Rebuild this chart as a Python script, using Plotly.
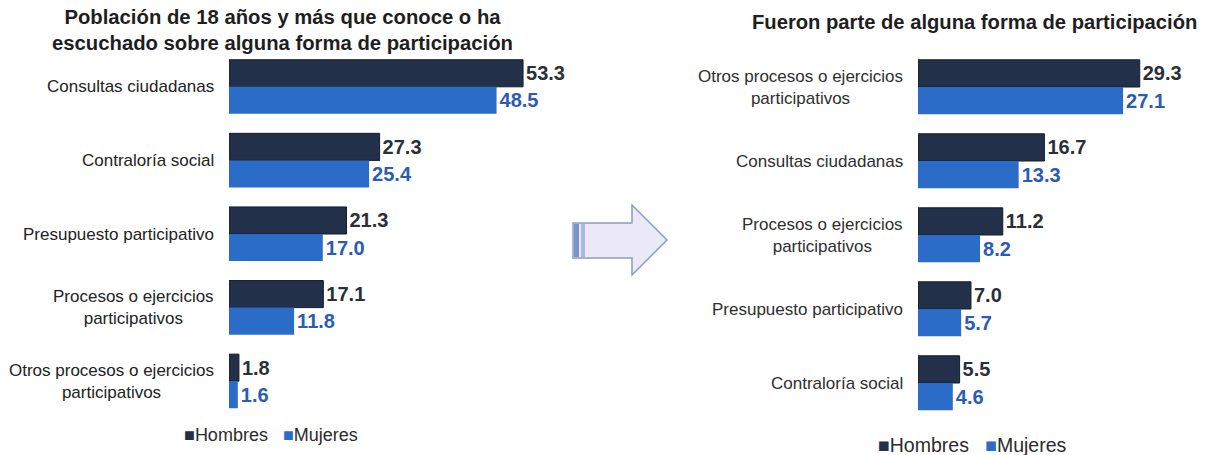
import plotly.graph_objects as go

# ---------------- data ----------------
left_categories = ["Consultas ciudadanas", "Contraloría social", "Presupuesto participativo",
                   "Procesos o ejercicios participativos", "Otros procesos o ejercicios participativos"]
left_labels = ["Consultas ciudadanas", "Contraloría social", "Presupuesto participativo",
               "Procesos o ejercicios<br>participativos", "Otros procesos o ejercicios<br>participativos"]
left_hombres = [53.3, 27.3, 21.3, 17.1, 1.8]
left_mujeres = [48.5, 25.4, 17.0, 11.8, 1.6]

right_categories = ["Otros procesos o ejercicios participativos", "Consultas ciudadanas",
                    "Procesos o ejercicios participativos", "Presupuesto participativo", "Contraloría social"]
right_labels = ["Otros procesos o ejercicios<br>participativos", "Consultas ciudadanas",
                "Procesos o ejercicios<br>participativos", "Presupuesto participativo", "Contraloría social"]
right_hombres = [29.3, 16.7, 11.2, 7.0, 5.5]
right_mujeres = [27.1, 13.3, 8.2, 5.7, 4.6]

series_names = ["Hombres", "Mujeres"]
left_title = "Población de 18 años y más que conoce o ha<br>escuchado sobre alguna forma de participación"
right_title = "Fueron parte de alguna forma de participación"

# ---------------- style ----------------
C_H = "#22304a"
C_M = "#2b6cc8"
TXT_H = "#2a2f38"
TXT_M = "#2c5bb5"
FONT = "Liberation Sans, Arial, sans-serif"
W, H = 1209, 455

fig = go.Figure()

def add_pair(cats, hom, muj, xa, ya):
    fig.add_trace(go.Bar(
        y=cats, x=hom, orientation="h", name=series_names[0],
        marker=dict(color=C_H, line=dict(color="#141b28", width=1)),
        texttemplate="%{x:.1f}", textposition="outside", constraintext="none",
        cliponaxis=False, textfont=dict(family=FONT, size=20, color=TXT_H, weight="bold"),
        xaxis=xa, yaxis=ya, showlegend=False, hoverinfo="x+name"))
    fig.add_trace(go.Bar(
        y=cats, x=muj, orientation="h", name=series_names[1],
        marker=dict(color=C_M, line=dict(color=C_M, width=0)),
        texttemplate="%{x:.1f}", textposition="outside", constraintext="none",
        cliponaxis=False, textfont=dict(family=FONT, size=20, color=TXT_M, weight="bold"),
        xaxis=xa, yaxis=ya, showlegend=False, hoverinfo="x+name"))

add_pair(left_categories, left_hombres, left_mujeres, "x", "y")
add_pair(right_categories, right_hombres, right_mujeres, "x2", "y2")

def px_x(v):
    return v / W

def px_y(v):
    return 1 - v / H

axis_common = dict(showgrid=False, zeroline=False, showticklabels=False, ticks="", showline=False, fixedrange=True)

fig.update_layout(
    width=W, height=H, margin=dict(l=0, r=0, t=0, b=0),
    paper_bgcolor="white", plot_bgcolor="white",
    barmode="group", bargap=0.265, bargroupgap=0.0,
    font=dict(family=FONT, color="#2b2b2b"),
    xaxis=dict(domain=[px_x(229), px_x(560)], range=[0, 60], anchor="y", **axis_common),
    yaxis=dict(domain=[px_y(418), px_y(50)], autorange="reversed", anchor="x",
               categoryorder="array", categoryarray=left_categories, **axis_common),
    xaxis2=dict(domain=[px_x(918), px_x(1198)], range=[0, 37], anchor="y2", **axis_common),
    yaxis2=dict(domain=[px_y(420), px_y(50)], autorange="reversed", anchor="x2",
                categoryorder="array", categoryarray=right_categories, **axis_common),
)

annotations = []
for cat, lab in zip(left_categories, left_labels):
    annotations.append(dict(x=0, xref="x domain", y=cat, yref="y", text=lab, showarrow=False,
                            xanchor="right", align="center", xshift=-13,
                            font=dict(family=FONT, size=17, color="#222222")))
for cat, lab in zip(right_categories, right_labels):
    annotations.append(dict(x=0, xref="x2 domain", y=cat, yref="y2", text=lab, showarrow=False,
                            xanchor="right", align="center", xshift=-13,
                            font=dict(family=FONT, size=17, color="#2e2e2e")))

annotations.append(dict(x=px_x(282), y=px_y(30), xref="paper", yref="paper", text="<b>" + left_title + "</b>",
                        showarrow=False, xanchor="center", yanchor="middle", align="center",
                        font=dict(family=FONT, size=20.3, color="#1e1e1e")))
annotations.append(dict(x=px_x(975), y=px_y(22), xref="paper", yref="paper", text="<b>" + right_title + "</b>",
                        showarrow=False, xanchor="center", yanchor="middle",
                        font=dict(family=FONT, size=20.2, color="#1e1e1e")))

legend_text = (f'<span style="color:{C_H}">■</span>{series_names[0]}   '
               f'<span style="color:{C_M}">■</span>{series_names[1]}')
annotations.append(dict(x=px_x(271), y=px_y(435), xref="paper", yref="paper", text=legend_text,
                        showarrow=False, xanchor="center", yanchor="middle",
                        font=dict(family=FONT, size=18, color="#2b2b2b")))
annotations.append(dict(x=px_x(972), y=px_y(445), xref="paper", yref="paper", text=legend_text,
                        showarrow=False, xanchor="center", yanchor="middle",
                        font=dict(family=FONT, size=19.5, color="#2b2b2b")))
fig.update_layout(annotations=annotations)

# arrow between the two panels
pts = [(573, 223), (632, 223), (632, 205), (667, 240), (632, 275), (632, 258), (573, 258)]
path = "M " + " L ".join(f"{px_x(a):.5f},{px_y(b):.5f}" for a, b in pts) + " Z"
shapes = [
    dict(type="path", xref="paper", yref="paper", path=path,
         fillcolor="#ebe9f8", line=dict(color="#8d9bc0", width=1.5)),
    dict(type="rect", xref="paper", yref="paper", x0=px_x(574), x1=px_x(579), y0=px_y(257), y1=px_y(224),
         fillcolor="#7d92c8", line=dict(width=0)),
    dict(type="rect", xref="paper", yref="paper", x0=px_x(581), x1=px_x(585), y0=px_y(257), y1=px_y(224),
         fillcolor="#a9badf", line=dict(width=0)),
]
fig.update_layout(shapes=shapes)

fig.write_html("out.html", config={"displayModeBar": False},
               post_script="document.body.style.margin='0';document.body.style.overflow='hidden';")
